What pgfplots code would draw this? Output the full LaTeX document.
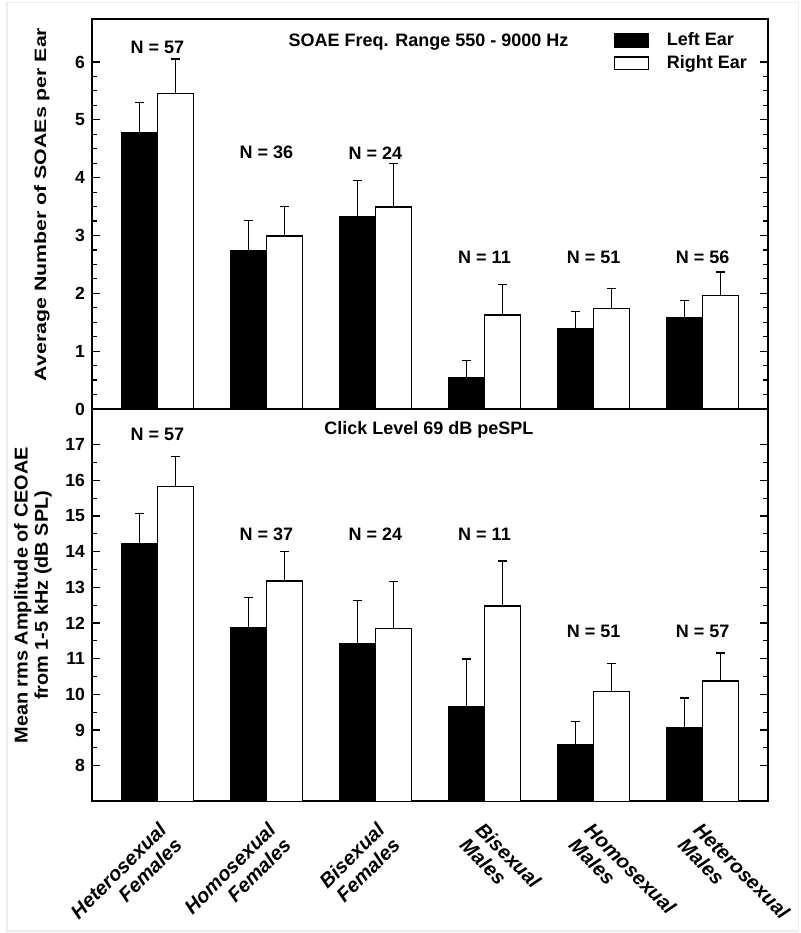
\documentclass[border=0pt]{standalone}
\usepackage{fontspec}
\setmainfont{Liberation Sans}
\newfontfamily\ylfontA[FakeStretch=1.3]{Liberation Sans}
\newfontfamily\ylfontB[FakeStretch=1.07]{Liberation Sans}
\usepackage{pgfplots}
\usepackage{pgfplotstable}
\pgfplotsset{compat=1.18}

% x = group, L/R = left/right ear means, Le/Re = upper error
\pgfplotstableread{
x L    Le    R     Re
0 4.78 0.52  5.46  0.59
1 2.74 0.52  2.99  0.51
2 3.33 0.62  3.49  0.75
3 0.54 0.30  1.625 0.525
4 1.395 0.285 1.735 0.355
5 1.57 0.30  1.96  0.41
}\soae

\pgfplotstableread{
x L     Le   R     Re
0 14.235 0.845 15.83 0.83
1 11.87 0.84  13.18 0.83
2 11.42 1.22  11.85 1.31
3 9.65  1.34  12.48 1.26
4 8.58  0.67  10.08 0.79
5 9.08  0.82  10.38 0.78
}\ceoae

\pgfplotsset{
  panel/.style={
    scale only axis, width=338pt,
    xmin=-0.6, xmax=5.6, xtick=\empty,
    axis line style={line width=1pt},
    ytick pos=both, yticklabel pos=left,
    tick align=inside,
    major tick length=4pt, minor tick length=2.3pt,
    every tick/.style={black, line width=0.6pt},
    ybar=0pt, bar width=18pt,
    /pgf/number format/assume math mode=true,
    yticklabel style={font=\fontsize{8.8}{10}\bfseries},
    clip mode=individual,
  },
  legbox/.style={legend image code/.code={\draw[##1, line width=0.7pt] (0pt,-3.2pt) rectangle (17.2pt,3.2pt);}},
  errs/.style={error bars/.cd, y dir=plus, y explicit,
    error bar style={line width=0.6pt, black},
    error mark options={rotate=90, line width=0.6pt, black, mark size=2.25pt}},
}
\tikzset{
  nlab/.style={font=\fontsize{9}{10}\bfseries},
  fem/.style={xshift=0pt, yshift=-9.5pt, rotate=45, anchor=north east, align=right, inner sep=0pt,
    font=\fontsize{10}{11}\bfseries\itshape},
  mal/.style={xshift=0pt, yshift=-9.5pt, rotate=-45, anchor=north west, align=left, inner sep=0pt,
    font=\fontsize{10}{11}\bfseries\itshape},
}

\begin{document}
\begin{tikzpicture}
\useasboundingbox (0,0) rectangle (400pt,466.5pt);
% faint frame of the scanned figure
\draw[black!7, line width=0.6pt] (3.5pt,1pt) rectangle (399.2pt,465.2pt);

\begin{axis}[panel,
  at={(46pt,262pt)}, anchor=south west, height=195.2pt,
  ymin=0, ymax=6.75, ytick={0,1,...,6}, minor y tick num=3,
  ylabel={Average Number of SOAEs per Ear},
  ylabel style={at={(axis description cs:-0.074,0.524)}, anchor=center,
    font=\ylfontA\fontsize{8.2}{10}\bfseries},
  legend style={at={(0.771,0.968)}, anchor=north west, draw=none, fill=none,
    inner sep=0pt, column sep=8.7pt, row sep=2.4pt,
    nodes={inner sep=0pt, text height=7pt, text depth=2pt},
    font=\fontsize{9}{10}\bfseries},
  legend cell align=left,
]
\addplot[fill=black, draw=black, line width=0.7pt, legbox, errs]
  table[x=x, y=L, y error=Le] {\soae};
\addlegendentry{Left Ear}
\addplot[fill=white, draw=black, line width=0.7pt, legbox, errs]
  table[x=x, y=R, y error=Re] {\soae};
\addlegendentry{Right Ear}

\node[nlab] at (axis cs:0,6.25) {N = 57};
\node[nlab] at (axis cs:1,4.43) {N = 36};
\node[nlab] at (axis cs:2,4.43) {N = 24};
\node[nlab] at (axis cs:3,2.62) {N = 11};
\node[nlab] at (axis cs:4,2.62) {N = 51};
\node[nlab] at (axis cs:5,2.62) {N = 56};
\node[nlab] at (axis cs:2.486,6.35) {SOAE Freq. Range 550 - 9000 Hz};
\end{axis}

\begin{axis}[panel,
  at={(46pt,65.8pt)}, anchor=south west, height=196.2pt,
  ymin=7, ymax=18, ytick={8,9,...,17}, minor y tick num=1,
  ylabel={Mean rms Amplitude of CEOAE\\from 1-5 kHz (dB SPL)},
  ylabel style={at={(axis description cs:-0.0873,0.525)}, anchor=center, align=center,
    font=\ylfontB\fontsize{9.3}{10.2}\bfseries},
]
\addplot[fill=black, draw=black, line width=0.7pt, errs]
  table[x=x, y=L, y error=Le] {\ceoae};
\addplot[fill=white, draw=black, line width=0.7pt, errs]
  table[x=x, y=R, y error=Re] {\ceoae};

\node[nlab] at (axis cs:0,17.30) {N = 57};
\node[nlab] at (axis cs:1,14.48) {N = 37};
\node[nlab] at (axis cs:2,14.48) {N = 24};
\node[nlab] at (axis cs:3,14.48) {N = 11};
\node[nlab] at (axis cs:4,11.77) {N = 51};
\node[nlab] at (axis cs:5,11.77) {N = 57};
\node[nlab] at (axis cs:2.49,17.42) {Click Level 69 dB peSPL};

\node[fem] at (axis cs:0,7) {Heterosexual\\Females};
\node[fem] at (axis cs:1,7) {Homosexual\\Females};
\node[fem] at (axis cs:2,7) {Bisexual\\Females};
\node[mal] at (axis cs:3,7) {Bisexual\\Males};
\node[mal] at (axis cs:4,7) {Homosexual\\Males};
\node[mal] at (axis cs:5,7) {Heterosexual\\Males};
\end{axis}
\end{tikzpicture}
\end{document}
